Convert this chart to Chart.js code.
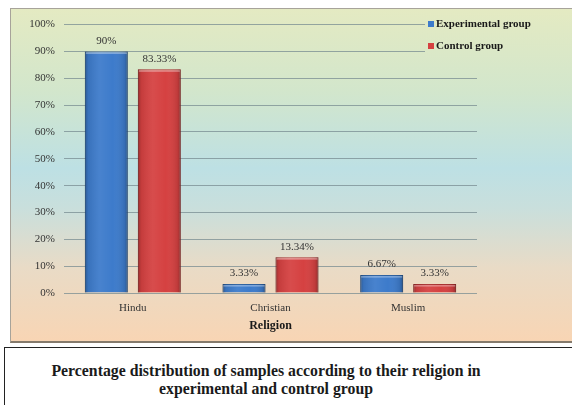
<!DOCTYPE html>
<html>
<head>
<meta charset="utf-8">
<script src="https://cdn.jsdelivr.net/npm/chart.js@4.4.1/dist/chart.umd.min.js"></script>
<style>
  html, body { margin: 0; padding: 0; background: #ffffff; width: 572px; height: 405px; overflow: hidden; position: relative; }
  #frame {
    position: absolute; left: 10px; top: 8px; width: 580px; height: 332px;
    border: 1px solid #a7a39a; border-bottom: 2px solid #857a6c;
    background: linear-gradient(to bottom, #e4eac2 0%, #d2e6cc 25%, #bde0e4 48%, #c9dfdc 60%, #e9dbc6 78%, #f8d5b4 100%);
  }
  #chart { position: absolute; left: 0; top: 0; }
  #caption {
    position: absolute; left: 4px; top: 347px; width: 600px; height: 70px;
    border: 1.5px solid #222; background: #fff;
  }
  #caption div {
    position: absolute; left: 0; top: 14px; width: 522px; text-align: center;
    font-family: 'Liberation Serif', 'DejaVu Serif', serif; font-weight: bold; font-size: 15.8px; line-height: 18px; color: #1a1a1a;
  }
</style>
</head>
<body>
<div id="frame"><canvas id="chart" width="561" height="332"></canvas></div>
<div id="caption"><div>Percentage distribution of samples according to their religion in<br>experimental and control group</div></div>
<script>
// Religion of the samples, in percent
const religions = ['Hindu', 'Christian', 'Muslim'];
const experimentalGroup = [90, 3.33, 6.67];
const controlGroup = [83.33, 13.34, 3.33];
const seriesNames = ['Experimental group', 'Control group'];
const yTicks = [0, 10, 20, 30, 40, 50, 60, 70, 80, 90, 100];

const serif = "'Liberation Serif', 'DejaVu Serif', serif";
Chart.defaults.font.family = serif;

// Shading that gives each bar a rounded, bevelled look
const barShade = {
  id: 'barShade',
  afterDatasetsDraw(chart) {
    const ctx = chart.ctx;
    chart.data.datasets.forEach((ds, di) => {
      chart.getDatasetMeta(di).data.forEach(bar => {
        const p = bar.getProps(['x', 'y', 'base', 'width'], true);
        const l = p.x - p.width / 2, r = p.x + p.width / 2;
        const g = ctx.createLinearGradient(l, 0, r, 0);
        g.addColorStop(0, 'rgba(0,0,0,0.28)');
        g.addColorStop(0.08, 'rgba(0,0,0,0.08)');
        g.addColorStop(0.35, 'rgba(255,255,255,0.06)');
        g.addColorStop(0.65, 'rgba(255,255,255,0.0)');
        g.addColorStop(0.92, 'rgba(0,0,0,0.10)');
        g.addColorStop(1, 'rgba(0,0,0,0.30)');
        ctx.save();
        ctx.fillStyle = g;
        ctx.fillRect(l, p.y, p.width, p.base - p.y);
        ctx.fillStyle = 'rgba(255,255,255,0.35)';
        ctx.fillRect(l + 1, p.y + 1, p.width - 2, 1.5);
        ctx.restore();
      });
    });
  }
};

// Value labels above the bars
const valueLabels = {
  id: 'valueLabels',
  afterDatasetsDraw(chart) {
    const ctx = chart.ctx;
    ctx.save();
    ctx.font = '11px ' + serif;
    ctx.fillStyle = '#333333';
    ctx.textAlign = 'center';
    ctx.textBaseline = 'bottom';
    chart.data.datasets.forEach((ds, di) => {
      chart.getDatasetMeta(di).data.forEach((bar, i) => {
        ctx.fillText(ds.data[i] + '%', bar.x, bar.y - 5);
      });
    });
    ctx.restore();
  }
};

// Legend stacked in the upper right corner; its box hides the grid lines behind it
const cornerLegend = {
  id: 'cornerLegend',
  afterDraw(chart) {
    const ctx = chart.ctx;
    ctx.save();
    const bg = ctx.createLinearGradient(0, 0, 0, chart.height);
    bg.addColorStop(0, '#e4eac2');
    bg.addColorStop(0.25, '#d2e6cc');
    bg.addColorStop(0.48, '#bde0e4');
    ctx.fillStyle = bg;
    ctx.fillRect(414, 3, chart.width - 414, 46);
    ctx.font = 'bold 11px ' + serif;
    ctx.textBaseline = 'middle';
    chart.data.datasets.forEach((ds, di) => {
      const y = 15 + di * 22;
      ctx.fillStyle = ds.backgroundColor;
      ctx.fillRect(417, y - 3, 6, 6);
      ctx.fillStyle = '#1a1a1a';
      ctx.fillText(ds.label, 425, y);
    });
    ctx.restore();
  }
};

new Chart(document.getElementById('chart'), {
  type: 'bar',
  data: {
    labels: religions,
    datasets: [
      { label: seriesNames[0], data: experimentalGroup, backgroundColor: '#3d7bcb', borderColor: '#2c5f9e', borderWidth: 1 },
      { label: seriesNames[1], data: controlGroup, backgroundColor: '#d54141', borderColor: '#a83030', borderWidth: 1 }
    ]
  },
  options: {
    responsive: false,
    animation: false,
    categoryPercentage: 0.77,
    barPercentage: 0.81,
    layout: { padding: { left: 0, right: 95, top: 14, bottom: 0 } },
    plugins: { legend: { display: false }, tooltip: { enabled: false } },
    scales: {
      x: {
        grid: { display: false, drawTicks: false },
        border: { display: false },
        ticks: { padding: 9, color: '#333333', font: { family: serif, size: 11 } },
        title: { display: true, text: 'Religion', color: '#1a1a1a', font: { family: serif, size: 12, weight: 'bold' }, padding: { top: 0, bottom: 8 } },
        afterFit: s => { s.height = 48; }
      },
      y: {
        min: 0, max: 100,
        afterBuildTicks: s => { s.ticks = yTicks.map(v => ({ value: v })); },
        grid: { color: 'rgba(120,140,145,0.75)', lineWidth: 1, drawTicks: false },
        border: { display: false },
        ticks: { padding: 9, color: '#333333', font: { family: serif, size: 11 }, callback: v => v + '%' },
        afterFit: s => { s.width = 53; }
      }
    }
  },
  plugins: [barShade, valueLabels, cornerLegend]
});
</script>
</body>
</html>
